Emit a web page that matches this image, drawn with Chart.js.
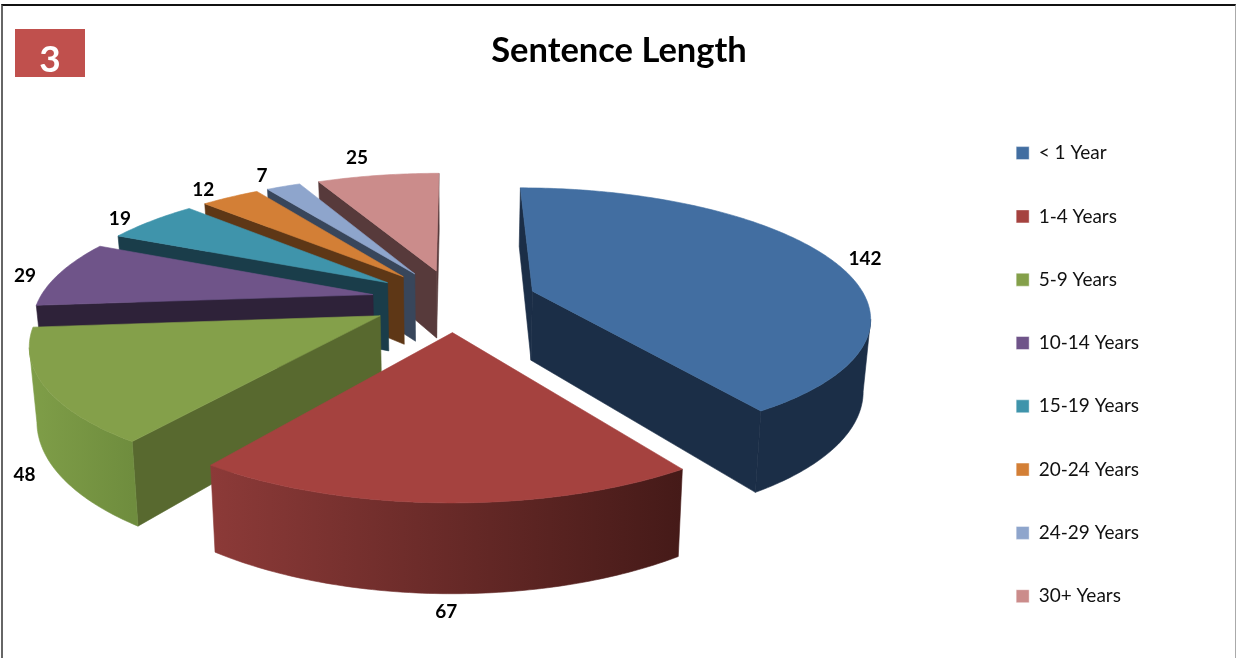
<!DOCTYPE html>
<html lang="en">
<head>
  <meta charset="UTF-8" />
  <title>Sentence Length</title>
  <script src="https://cdn.jsdelivr.net/npm/chart.js"></script>
  <style>
    html, body { margin: 0; padding: 0; background: #fff; }
    #wrap { position: relative; width: 1238px; height: 660px; overflow: hidden; }
    #sentenceChart { display: block; }
    #frame { position: absolute; left: 1px; top: 4px; width: 1235px; height: 654px; box-sizing: border-box;
             border-top: 2px solid #111; border-left: 2px solid #666; border-right: 1px solid #aaa; }
    #badge { position: absolute; left: 15px; top: 29px; width: 70px; height: 48px; background: #c0504d; color: #fff;
             font: bold 37px Lato, sans-serif; line-height: 57px; text-align: center; }
  </style>
</head>
<body>
  <div id="wrap">
    <canvas id="sentenceChart" width="1238" height="660"></canvas>
    <div id="frame"></div>
    <div id="badge">3</div>
  </div>

  <script>
    const categories = ["< 1 Year", "1-4 Years", "5-9 Years", "10-14 Years", "15-19 Years", "20-24 Years", "24-29 Years", "30+ Years"];
    const counts = [142, 67, 48, 29, 19, 12, 7, 25];

    const topColors = ["#426ea1", "#a5423f", "#84a04a", "#6f5489", "#3f94ab", "#d37f36", "#8ea5cc", "#cb8c8b"];
    const sideColors = ["#1b2e47", "#7a302e", "#58692f", "#2e2239", "#1a3d4a", "#5e3716", "#38465b", "#573a3b"];
    const rimLeft = ["#1b2e47", "#8c3a38", "#7f9e48", "#2e2239", "#1a3d4a", "#5e3716", "#38465b", "#573a3b"];
    const rimRight = ["#1b2e47", "#451a18", "#6f8d3e", "#2e2239", "#1a3d4a", "#5e3716", "#38465b", "#573a3b"];

    // camera for the tilted pie
    const view = { cx: 454, cy: 300, radius: 334, squash: 0.375, persp: 0.00055, depth: 70, taper: 0.982, labelGap: 40 };
    // small per-label tweaks, excel places these by hand-ish rules
    const labelNudge = [[3, 5], [3, -10], [16, -2], [2, 5], [-6, 4], [-9, 1], [-8, -2], [-15, -8]];

    function project(px, py) {
      const f = 1 / (1 - view.persp * py);
      return { x: view.cx + px * f, y: view.cy + py * view.squash * f, f };
    }

    function lower(p) {
      return { x: view.cx + (p.x - view.cx) * view.taper, y: p.y + view.depth * p.f };
    }

    function fillPoly(ctx, pts, fill) {
      ctx.beginPath();
      pts.forEach((p, i) => i ? ctx.lineTo(p.x, p.y) : ctx.moveTo(p.x, p.y));
      ctx.closePath();
      ctx.fillStyle = fill;
      ctx.fill();
      // closes the hairline between neighbouring faces
      ctx.strokeStyle = fill;
      ctx.lineWidth = 0.6;
      ctx.stroke();
    }

    function drawSlice(ctx, el, i) {
      const mid = (el.startAngle + el.endAngle) / 2;
      const off = el.options.offset;
      const ax = Math.cos(mid) * off, ay = Math.sin(mid) * off;
      const apex = project(ax, ay);

      const rim = [];
      const steps = Math.ceil((el.endAngle - el.startAngle) / 0.015);
      for (let s = 0; s <= steps; s++) {
        const a = el.startAngle + (el.endAngle - el.startAngle) * s / steps;
        rim.push(project(ax + Math.cos(a) * view.radius, ay + Math.sin(a) * view.radius));
      }

      const first = rim[0], last = rim[rim.length - 1];
      // a side only shows when its top edge runs right to left
      if (first.x < apex.x) fillPoly(ctx, [apex, first, lower(first), lower(apex)], sideColors[i]);
      if (apex.x < last.x) fillPoly(ctx, [last, apex, lower(apex), lower(last)], sideColors[i]);

      let rimFill = rimLeft[i];
      if (rimLeft[i] !== rimRight[i]) {
        const xs = rim.map(p => p.x);
        rimFill = ctx.createLinearGradient(Math.min(...xs), 0, Math.max(...xs), 0);
        rimFill.addColorStop(0, rimLeft[i]);
        rimFill.addColorStop(1, rimRight[i]);
      }
      let run = [];
      const flush = () => {
        if (run.length > 1) fillPoly(ctx, [...run, ...run.map(lower).reverse()], rimFill);
        run = [];
      };
      for (let s = 0; s < rim.length - 1; s++) {
        if (rim[s + 1].x < rim[s].x) {
          if (!run.length) run.push(rim[s]);
          run.push(rim[s + 1]);
        } else {
          flush();
        }
      }
      flush();

      fillPoly(ctx, [apex, ...rim], el.options.backgroundColor);
    }

    function drawLabel(ctx, el, i) {
      const mid = (el.startAngle + el.endAngle) / 2;
      const r = el.options.offset + view.radius + view.labelGap;
      const py = Math.sin(mid) * r;
      const p = project(Math.cos(mid) * r, py);
      const at = py > 0 ? lower(p) : p;
      ctx.fillStyle = "#000";
      ctx.font = "bold 19px Lato, sans-serif";
      ctx.textAlign = "center";
      ctx.textBaseline = "middle";
      ctx.fillText(counts[i], at.x + labelNudge[i][0], at.y + labelNudge[i][1]);
    }

    const pie3d = {
      id: "pie3d",
      beforeDatasetsDraw(chart) {
        const ctx = chart.ctx;
        const arcs = chart.getDatasetMeta(0).data;
        const order = arcs.map((el, i) => i).sort((a, b) => {
          const ya = Math.sin((arcs[a].startAngle + arcs[a].endAngle) / 2);
          const yb = Math.sin((arcs[b].startAngle + arcs[b].endAngle) / 2);
          return ya - yb;
        });
        ctx.save();
        order.forEach(i => drawSlice(ctx, arcs[i], i));
        arcs.forEach((el, i) => drawLabel(ctx, el, i));
        ctx.restore();
        return false;
      }
    };

    new Chart(document.getElementById("sentenceChart"), {
      type: "pie",
      data: {
        labels: categories,
        datasets: [{ data: counts, backgroundColor: topColors, borderColor: "rgba(255,255,255,0.45)", borderWidth: 1, offset: 83 }]
      },
      options: {
        responsive: false,
        animation: false,
        events: [],
        layout: { padding: { left: 89, right: 89, bottom: 10 } },
        plugins: {
          title: {
            display: true,
            text: "Sentence Length",
            color: "#000",
            font: { family: "Lato, sans-serif", size: 34.5, weight: "bold" },
            padding: { top: 30, bottom: 20 }
          },
          legend: {
            position: "right",
            align: "end",
            labels: {
              color: "#111",
              font: { family: "Lato, sans-serif", size: 19 },
              boxWidth: 13,
              boxHeight: 13,
              padding: 44.3
            }
          },
          tooltip: { enabled: false }
        }
      },
      plugins: [pie3d]
    });
  </script>
</body>
</html>
